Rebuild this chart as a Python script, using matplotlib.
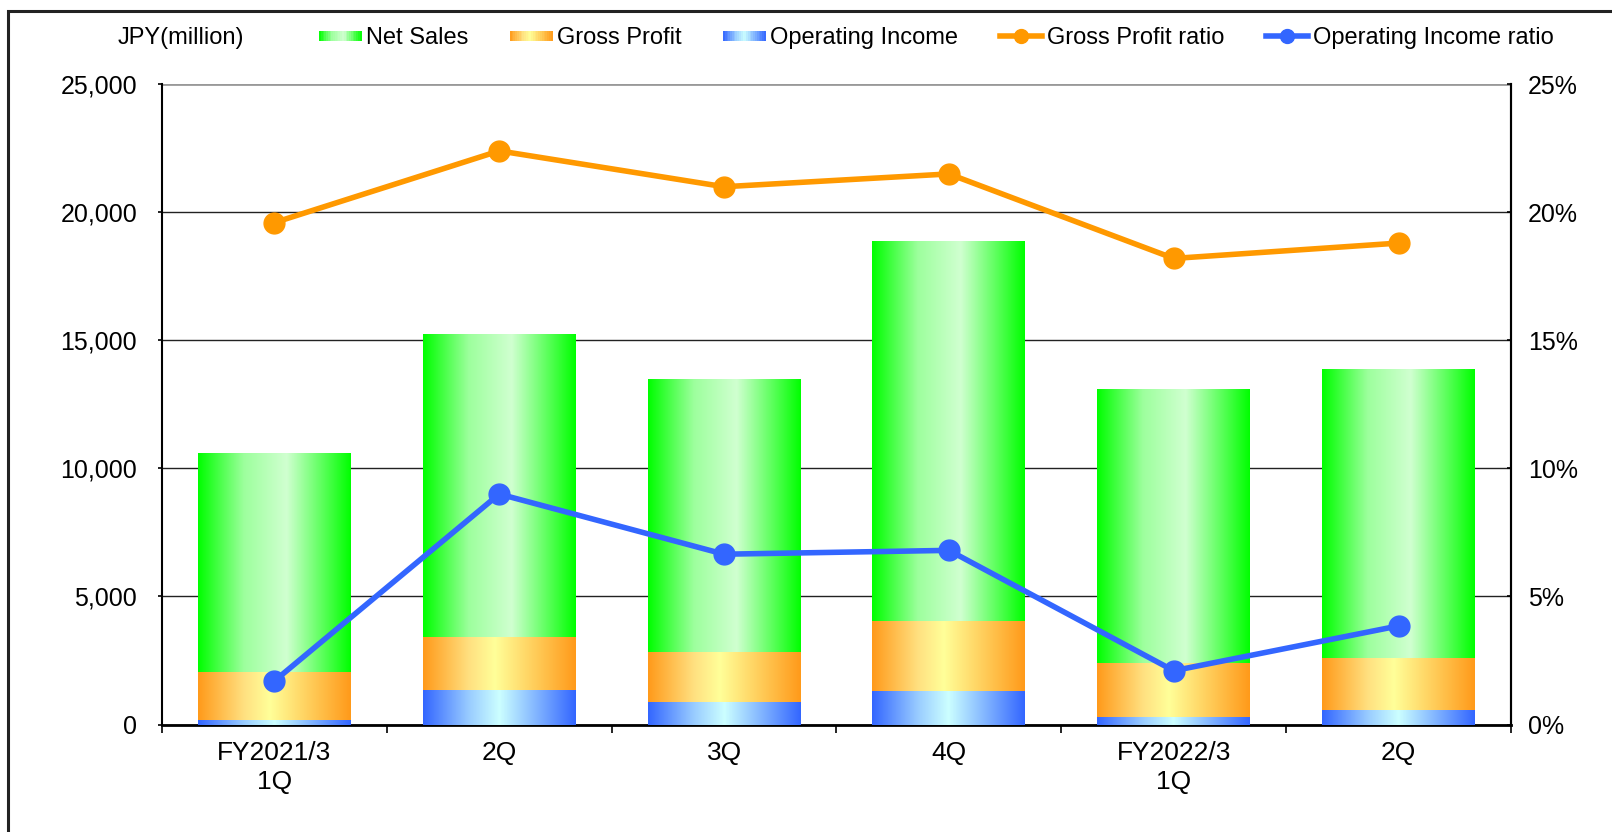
import numpy as np
import matplotlib
matplotlib.use("Agg")
import matplotlib.pyplot as plt
from matplotlib.colors import LinearSegmentedColormap
from matplotlib.legend_handler import HandlerBase
from matplotlib.lines import Line2D
from matplotlib.patches import Rectangle

plt.rcParams["font.family"] = ["Liberation Sans", "DejaVu Sans"]

categories = ["FY2021/3\n1Q", "2Q", "3Q", "4Q", "FY2022/3\n1Q", "2Q"]
net_sales = [10590, 15250, 13480, 18900, 13120, 13880]
gross_profit = [2060, 3410, 2830, 4050, 2400, 2610]
operating_income = [170, 1340, 870, 1300, 290, 560]
gross_profit_ratio = [19.6, 22.4, 21.0, 21.5, 18.2, 18.8]
operating_income_ratio = [1.7, 9.0, 6.65, 6.8, 2.1, 3.85]

cmaps = {
    "green": LinearSegmentedColormap.from_list(
        "g", [(0, "#00ff00"), (0.3, "#9dff9d"), (0.58, "#d0ffd0"), (1, "#00ff00")]),
    "orange": LinearSegmentedColormap.from_list(
        "o", [(0, "#ff9a1a"), (0.3, "#ffe080"), (0.47, "#ffff99"), (1, "#ff9a1a")]),
    "blue": LinearSegmentedColormap.from_list(
        "b", [(0, "#3366ff"), (0.3, "#99ccff"), (0.5, "#ccffff"), (1, "#3366ff")]),
}
grad = np.linspace(0, 1, 256).reshape(1, -1)


def gradient_bars(ax, x, values, cmap, width=0.68, z=2):
    bars = ax.bar(x, values, width, color="none", zorder=z)
    for b in bars:
        x0, w, h = b.get_x(), b.get_width(), b.get_height()
        ax.imshow(grad, cmap=cmap, aspect="auto", extent=[x0, x0 + w, 0, h],
                  zorder=z, interpolation="bilinear")
    return bars


class GradHandler(HandlerBase):
    def __init__(self, cmap):
        super().__init__()
        self.cmap = cmap

    def create_artists(self, legend, orig, xd, yd, width, height, fontsize, trans):
        n = 24
        arts = []
        for i in range(n):
            r = Rectangle((-xd + width * i / n, -yd + height * 0.2), width / n + 0.3,
                          height * 0.6, facecolor=self.cmap((i + 0.5) / n),
                          edgecolor="none", transform=trans)
            arts.append(r)
        return arts


fig = plt.figure(figsize=(16.12, 8.32), dpi=100)
ax = fig.add_axes([162 / 1612, 1 - 724.5 / 832, (1511 - 162) / 1612, (724.5 - 84.3) / 832])
x = np.arange(len(categories))

gradient_bars(ax, x, net_sales, cmaps["green"], z=2)
gradient_bars(ax, x, gross_profit, cmaps["orange"], z=3)
gradient_bars(ax, x, operating_income, cmaps["blue"], z=4)

ax.set_xlim(-0.5, len(categories) - 0.5)
ax.set_ylim(0, 25000)
ax.set_yticks(range(0, 25001, 5000))
ax.set_yticklabels([f"{v:,}" for v in range(0, 25001, 5000)])
ax.yaxis.grid(True, color="#222222", lw=1.0)
ax.set_axisbelow(True)
ax.get_ygridlines()[-1].set_color("#999999")
ax.get_ygridlines()[-1].set_linewidth(2)
ax.set_xticks(x)
ax.set_xticklabels(categories, linespacing=1.25)
ax.set_xticks(np.arange(-0.5, len(categories), 1), minor=True)
ax.tick_params(axis="x", which="major", length=0, pad=12, labelsize=19)
ax.tick_params(axis="x", which="minor", length=6, width=1.2, direction="out")
ax.tick_params(axis="y", length=3, width=1.2, pad=15, labelsize=18)
ax.spines["top"].set_visible(False)
ax.spines["left"].set_linewidth(1.5)
ax.spines["bottom"].set_linewidth(2)
ax.spines["right"].set_linewidth(1.5)

ax2 = ax.twinx()
ax2.set_ylim(0, 25)
ax2.set_yticks(range(0, 26, 5))
ax2.set_yticklabels([f"{v}%" for v in range(0, 26, 5)])
ax2.tick_params(axis="y", length=3, width=1.2, direction="in", pad=12, labelsize=18)
for s in ["top", "left", "bottom"]:
    ax2.spines[s].set_visible(False)
ax2.spines["right"].set_linewidth(1.5)

gp_line, = ax2.plot(x, gross_profit_ratio, color="#ff9900", lw=4, marker="o",
                    markersize=15, zorder=5)
oi_line, = ax2.plot(x, operating_income_ratio, color="#3366ff", lw=4, marker="o",
                    markersize=15, zorder=5)

fig.text(118 / 1612, 1 - 38 / 832, "JPY(million)", fontsize=17, va="center", ha="left")

h_ns = Rectangle((0, 0), 1, 1)
h_gp = Rectangle((0, 0), 1, 1)
h_oi = Rectangle((0, 0), 1, 1)
l_gp = Line2D([], [], color="#ff9900", lw=4, marker="o", markersize=10)
l_oi = Line2D([], [], color="#3366ff", lw=4, marker="o", markersize=10)
fig.legend([h_ns, h_gp, h_oi, l_gp, l_oi],
           ["Net Sales", "Gross Profit", "Operating Income", "Gross Profit ratio",
            "Operating Income ratio"],
           handler_map={h_ns: GradHandler(cmaps["green"]), h_gp: GradHandler(cmaps["orange"]),
                        h_oi: GradHandler(cmaps["blue"])},
           loc="center left", bbox_to_anchor=(319 / 1612, 1 - 38 / 832), ncol=5,
           frameon=False, fontsize=17, handlelength=1.8, handletextpad=0.2,
           columnspacing=1.75, borderpad=0, borderaxespad=0)

fig.patches.append(Rectangle((8 / 1612, -0.1), 1.2, 1 - 11 / 832 + 0.1,
                             transform=fig.transFigure, fill=False,
                             edgecolor="#222222", lw=2.2))

fig.savefig("out.png", dpi=100)
